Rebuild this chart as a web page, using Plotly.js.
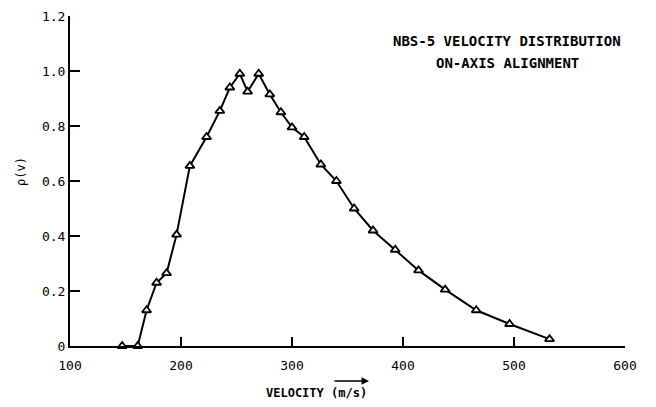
<!DOCTYPE html>
<html>
<head>
<meta charset="utf-8">
<script src="https://cdn.plot.ly/plotly-3.0.1.min.js"></script>
<style>
  html, body { margin: 0; padding: 0; background: #ffffff; }
  #chart { width: 656px; height: 407px; }
</style>
</head>
<body>
<div id="chart"></div>
<script>
// Data
var velocity = [147, 161, 169, 178, 187, 196, 208, 223, 235, 244, 253, 260, 270, 280, 290, 300, 311, 326, 340, 356, 373, 393, 414, 438, 466, 496, 532];
var rho = [0, 0, 0.13, 0.23, 0.265, 0.405, 0.655, 0.76, 0.855, 0.94, 0.99, 0.925, 0.99, 0.915, 0.85, 0.795, 0.76, 0.66, 0.6, 0.5, 0.42, 0.35, 0.275, 0.205, 0.13, 0.08, 0.025];

var xTicks = [100, 200, 300, 400, 500, 600];
var xTickLabels = ["100", "200", "300", "400", "500", "600"];
var yTicks = [0, 0.2, 0.4, 0.6, 0.8, 1.0, 1.2];
var yTickLabels = ["0", "0.2", "0.4", "0.6", "0.8", "1.0", "1.2"];

var titleLine1 = "NBS-5 VELOCITY DISTRIBUTION";
var titleLine2 = "ON-AXIS ALIGNMENT";
var xTitle = "VELOCITY (m/s)";
var yTitle = "\u03c1(v)";

var W = 656, H = 407;
var M = {l: 70, r: 31, t: 16, b: 61};
var pw = W - M.l - M.r, ph = H - M.t - M.b;
function px(x) { return (x - M.l) / pw; }
function py(y) { return (H - M.b - y) / ph; }

var mono = "DejaVu Sans Mono, Liberation Mono, monospace";

var trace = {
  x: velocity,
  y: rho,
  type: "scatter",
  mode: "lines+markers",
  line: {color: "#000000", width: 2},
  marker: {symbol: "triangle-up", size: 8, color: "#ffffff", line: {color: "#000000", width: 1.8}},
  cliponaxis: false,
  hoverinfo: "x+y"
};

var layout = {
  width: W, height: H,
  margin: M,
  paper_bgcolor: "#ffffff",
  plot_bgcolor: "#ffffff",
  showlegend: false,
  xaxis: {
    range: [100, 600],
    tickmode: "array", tickvals: xTicks, ticktext: xTickLabels,
    ticks: "inside", ticklen: 9, tickwidth: 2, tickcolor: "#000000",
    showline: true, linecolor: "#000000", linewidth: 2,
    showgrid: false, zeroline: false,
    ticklabelstandoff: 6,
    tickfont: {family: mono, size: 13, color: "#000000"}
  },
  yaxis: {
    range: [0, 1.2],
    tickmode: "array", tickvals: yTicks, ticktext: yTickLabels,
    ticks: "inside", ticklen: 10, tickwidth: 2, tickcolor: "#000000",
    showline: true, linecolor: "#000000", linewidth: 2,
    showgrid: false, zeroline: false,
    tickfont: {family: mono, size: 13, color: "#000000"}
  },
  annotations: [
    {text: "<b>" + titleLine1 + "</b>", xref: "paper", yref: "paper", x: px(507), y: py(41),
     xanchor: "center", yanchor: "middle", showarrow: false,
     font: {family: mono, size: 14, color: "#000000"}},
    {text: "<b>" + titleLine2 + "</b>", xref: "paper", yref: "paper", x: px(507), y: py(63),
     xanchor: "center", yanchor: "middle", showarrow: false,
     font: {family: mono, size: 14, color: "#000000"}},
    {text: "<b>" + xTitle + "</b>", xref: "paper", yref: "paper", x: px(316), y: py(393),
     xanchor: "center", yanchor: "middle", showarrow: false,
     font: {family: mono, size: 12, color: "#000000"}},
    {text: "", xref: "paper", yref: "paper", x: px(369), y: py(381),
     ax: -36, ay: 0, showarrow: true, arrowhead: 2, arrowsize: 1, arrowwidth: 1.5, arrowcolor: "#000000"},
    {text: yTitle, xref: "paper", yref: "paper", x: px(21), y: py(172),
     xanchor: "center", yanchor: "middle", showarrow: false, textangle: -90,
     font: {family: mono, size: 12, color: "#000000"}}
  ]
};

Plotly.newPlot("chart", [trace], layout, {displayModeBar: false, staticPlot: true});
</script>
</body>
</html>
